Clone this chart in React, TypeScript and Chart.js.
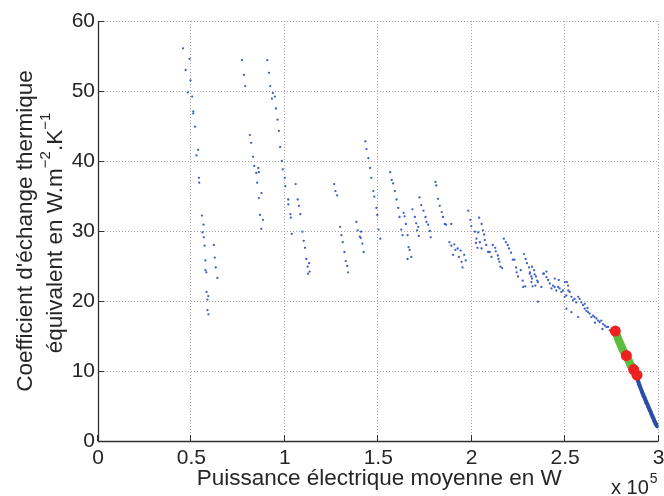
import React, { useEffect, useRef } from "react";
import { Chart, registerables } from "chart.js";

Chart.register(...registerables);

// Puissance électrique moyenne (×10^5 W) , coefficient d'échange (W.m-2.K-1)
const bluePoints: [number, number][] = [
  [0.455, 56.1], [0.49, 54.6], [0.469, 53.0], [0.495, 51.5], [0.481, 49.8], [0.504, 49.2],
  [0.51, 47.1], [0.51, 46.8], [0.52, 44.9], [0.536, 41.6], [0.527, 40.8], [0.54, 37.6],
  [0.542, 36.9], [0.556, 32.2], [0.565, 30.9], [0.559, 29.8], [0.566, 29.1], [0.57, 27.9],
  [0.62, 28.0], [0.625, 26.2], [0.575, 25.8], [0.63, 24.8], [0.575, 24.4], [0.58, 24.1],
  [0.639, 23.3], [0.581, 21.3], [0.59, 20.7], [0.586, 20.2], [0.586, 18.7], [0.591, 18.1],
  [0.771, 54.4], [0.781, 52.3], [0.788, 50.7], [0.813, 43.7], [0.82, 42.6], [0.83, 40.6],
  [0.836, 39.3], [0.858, 39.0], [0.847, 38.3], [0.861, 38.4], [0.852, 36.9], [0.875, 35.4],
  [0.861, 34.7], [0.867, 32.3], [0.883, 31.6], [0.874, 30.3],
  [0.906, 54.4], [0.915, 52.6], [0.922, 50.7], [0.936, 49.7], [0.947, 49.2], [0.931, 48.9],
  [0.952, 47.5], [0.961, 45.9], [0.968, 44.3], [0.975, 42.0], [0.984, 40.0], [0.989, 38.8],
  [1.0, 37.6], [1.003, 36.4], [1.018, 34.5], [1.019, 33.8], [1.03, 32.4], [1.032, 31.9],
  [1.037, 29.6], [1.058, 36.7], [1.069, 34.5], [1.076, 33.6], [1.083, 32.4], [1.094, 29.9],
  [1.101, 28.6], [1.108, 27.6], [1.115, 26.0], [1.13, 25.4], [1.122, 24.9], [1.133, 24.2],
  [1.124, 23.9],
  [1.264, 36.7], [1.271, 35.7], [1.28, 35.1], [1.296, 30.6], [1.303, 29.4], [1.31, 28.4],
  [1.319, 27.0], [1.326, 25.7], [1.334, 25.0], [1.339, 24.1],
  [1.383, 31.3], [1.39, 30.1], [1.401, 29.2], [1.406, 29.0], [1.408, 29.9], [1.415, 28.2],
  [1.422, 27.0], [1.431, 42.8], [1.437, 41.7], [1.447, 40.4], [1.456, 39.0], [1.463, 37.6],
  [1.474, 35.7], [1.479, 34.9], [1.49, 33.3], [1.495, 32.3], [1.502, 30.2], [1.511, 28.9],
  [1.564, 38.4], [1.572, 37.3], [1.58, 36.8], [1.589, 35.7], [1.598, 34.5], [1.607, 33.3],
  [1.614, 32.0], [1.623, 30.2], [1.63, 29.4], [1.636, 32.6], [1.641, 32.1], [1.648, 31.0],
  [1.657, 29.4], [1.662, 27.7], [1.668, 27.3], [1.657, 26.0], [1.677, 26.3], [1.683, 33.1],
  [1.696, 32.0], [1.703, 31.1], [1.708, 30.1], [1.714, 30.6], [1.717, 29.3], [1.721, 34.8],
  [1.73, 33.7], [1.742, 32.9], [1.753, 32.0], [1.758, 31.3], [1.767, 30.9], [1.776, 30.0],
  [1.781, 29.1], [1.806, 37.0], [1.811, 36.5], [1.82, 34.6], [1.829, 33.6], [1.84, 32.7],
  [1.847, 32.0], [1.856, 31.0], [1.863, 30.9], [1.891, 31.0], [1.881, 28.4], [1.891, 27.9],
  [1.907, 28.1], [1.913, 27.3], [1.925, 27.5], [1.9, 26.6], [1.941, 27.2], [1.932, 26.3],
  [1.946, 25.6], [1.968, 25.8], [1.951, 24.8], [1.96, 26.6],
  [1.982, 32.9], [1.993, 31.6], [1.998, 30.7], [2.017, 29.9], [2.026, 28.9], [2.035, 29.8],
  [2.023, 28.3], [2.04, 31.9], [2.053, 31.0], [2.06, 30.1], [2.044, 28.4], [2.067, 29.5],
  [2.031, 27.6], [2.053, 27.5], [2.07, 28.7], [2.078, 28.0], [2.088, 27.0], [2.097, 27.0],
  [2.106, 26.3], [2.113, 28.0], [2.126, 27.6], [2.129, 27.1], [2.14, 26.5], [2.143, 26.0],
  [2.149, 25.6], [2.154, 24.9], [2.163, 24.7], [2.172, 28.9], [2.183, 28.4], [2.193, 28.0],
  [2.2, 27.5], [2.211, 26.9], [2.22, 25.9], [2.229, 25.9], [2.238, 24.8], [2.241, 24.1],
  [2.248, 23.5], [2.263, 24.4], [2.273, 22.9], [2.28, 26.7], [2.289, 26.0], [2.296, 25.4],
  [2.307, 24.8], [2.312, 24.1], [2.319, 23.5], [2.337, 23.8], [2.344, 23.5], [2.351, 22.9],
  [2.276, 22.0], [2.287, 22.1], [2.326, 22.1],
  [2.323, 24.9], [2.334, 24.4], [2.311, 23.9], [2.323, 23.2], [2.32, 22.7], [2.341, 22.2],
  [2.355, 22.7], [2.373, 22.0], [2.387, 23.9], [2.4, 24.2], [2.4, 23.4], [2.409, 23.0],
  [2.418, 22.5], [2.427, 21.8], [2.435, 22.2], [2.444, 22.0], [2.453, 21.5], [2.466, 23.0],
  [2.471, 21.8], [2.48, 21.3], [2.489, 21.5], [2.498, 20.6], [2.507, 20.8], [2.51, 22.7],
  [2.516, 22.2], [2.525, 21.3], [2.534, 20.6], [2.542, 20.1], [2.551, 20.3], [2.56, 19.8],
  [2.57, 20.6], [2.578, 20.3], [2.587, 19.8], [2.596, 19.4], [2.605, 18.9], [2.614, 18.6],
  [2.623, 18.4], [2.632, 18.2], [2.641, 17.7], [2.65, 17.9], [2.658, 17.7], [2.668, 17.5],
  [2.677, 17.2], [2.685, 17.0], [2.694, 17.2], [2.703, 16.7], [2.712, 16.5], [2.721, 16.3],
  [2.73, 16.3], [2.739, 15.8], [2.57, 17.7], [2.507, 18.9], [2.534, 18.4], [2.355, 19.9],
  [2.383, 23.9], [2.445, 23.2], [2.463, 22.0], [2.499, 22.7], [2.517, 21.5], [2.605, 19.6],
  [2.62, 19.0], [2.66, 16.9], [2.7, 16.0], [2.75, 15.5], [2.76, 15.2],
];

const tailPoints: [number, number][] = [
  [2.888, 8.9], [2.89, 8.6], [2.893, 8.4], [2.896, 8.1], [2.899, 7.9], [2.902, 7.7],
  [2.905, 7.5], [2.909, 7.2], [2.912, 7.0], [2.915, 6.8], [2.918, 6.6], [2.921, 6.4],
  [2.925, 6.2], [2.928, 6.0], [2.931, 5.8], [2.934, 5.6], [2.937, 5.4], [2.941, 5.2],
  [2.944, 5.0], [2.947, 4.8], [2.95, 4.6], [2.954, 4.4], [2.957, 4.2], [2.96, 4.0],
  [2.963, 3.8], [2.966, 3.6], [2.97, 3.4], [2.973, 3.2], [2.976, 3.0], [2.979, 2.8],
  [2.983, 2.6], [2.986, 2.4], [2.989, 2.3], [2.993, 2.1],
];

const greenPoints: [number, number][] = [
  [2.775, 15.3], [2.78, 14.9], [2.785, 14.5], [2.79, 14.2], [2.795, 13.9], [2.8, 13.6],
  [2.805, 13.3], [2.81, 13.0], [2.815, 12.7], [2.822, 12.4], [2.835, 11.8], [2.84, 11.5],
  [2.845, 11.2], [2.85, 10.9], [2.855, 10.7], [2.86, 10.5], [2.872, 9.9], [2.878, 9.6],
];

const redPoints: [number, number][] = [
  [2.769, 15.7], [2.828, 12.2], [2.867, 10.2], [2.885, 9.4],
];

const xTicks = [0, 0.5, 1, 1.5, 2, 2.5, 3];
const yTicks = [0, 10, 20, 30, 40, 50, 60];
const xLabel = "Puissance électrique moyenne en W";
const xExponentBase = "x 10";
const xExponent = "5";
const yLabelLine1 = "Coefficient d'échange thermique";
const yLabelLine2: { t: string; sup: boolean }[] = [
  { t: "équivalent en W.m", sup: false },
  { t: "−2", sup: true },
  { t: ".K", sup: false },
  { t: "−1", sup: true },
];

const FONT = '"Liberation Sans", Arial, Helvetica, sans-serif';
const TEXT = "#262626";

const toXY = (p: [number, number][]) => p.map(([x, y]) => ({ x, y }));

const matlabAxes = {
  id: "matlabAxes",
  beforeDatasetsDraw(chart: any) {
    const { ctx, chartArea: a, scales } = chart;
    const xs = scales.x, ys = scales.y;
    ctx.save();
    ctx.strokeStyle = "#a8a8a8";
    ctx.lineWidth = 1;
    ctx.setLineDash([1, 2]);
    xTicks.forEach((v) => {
      if (v === 0) return;
      const px = Math.round(xs.getPixelForValue(v)) - 0.5;
      ctx.beginPath(); ctx.moveTo(px, a.top); ctx.lineTo(px, a.bottom); ctx.stroke();
    });
    yTicks.forEach((v) => {
      if (v === 0) return;
      const py = Math.round(ys.getPixelForValue(v)) + 0.5;
      ctx.beginPath(); ctx.moveTo(a.left, py); ctx.lineTo(a.right, py); ctx.stroke();
    });
    ctx.restore();
  },
  afterDatasetsDraw(chart: any) {
    const { ctx, chartArea: a, scales } = chart;
    const xs = scales.x, ys = scales.y;
    ctx.save();
    ctx.strokeStyle = "#303030";
    ctx.lineWidth = 1.3;
    ctx.setLineDash([]);
    ctx.beginPath();
    ctx.moveTo(a.left + 0.5, a.top);
    ctx.lineTo(a.left + 0.5, a.bottom + 0.5);
    ctx.lineTo(a.right, a.bottom + 0.5);
    ctx.stroke();
    ctx.lineWidth = 1;
    xTicks.forEach((v) => {
      const px = Math.round(xs.getPixelForValue(v)) - 0.5;
      ctx.beginPath(); ctx.moveTo(px, a.bottom); ctx.lineTo(px, a.bottom - 6); ctx.stroke();
    });
    yTicks.forEach((v) => {
      const py = Math.round(ys.getPixelForValue(v)) + 0.5;
      ctx.beginPath(); ctx.moveTo(a.left, py); ctx.lineTo(a.left + 6, py); ctx.stroke();
    });

    ctx.fillStyle = TEXT;
    // x label
    ctx.font = `22.5px ${FONT}`;
    ctx.textAlign = "center";
    ctx.textBaseline = "alphabetic";
    ctx.fillText(xLabel, (a.left + a.right) / 2 + 1, 485);
    // exponent
    ctx.font = `20px ${FONT}`;
    ctx.textAlign = "left";
    const bx = 611;
    ctx.fillText(xExponentBase, bx, 494);
    const bw = ctx.measureText(xExponentBase).width;
    ctx.font = `14px ${FONT}`;
    ctx.fillText(xExponent, bx + bw + 1, 483);

    // y label (rotated)
    const cy = (a.top + a.bottom) / 2;
    ctx.translate(0, cy);
    ctx.rotate(-Math.PI / 2);
    ctx.font = `22.5px ${FONT}`;
    ctx.textAlign = "center";
    ctx.fillText(yLabelLine1, 0, 32);
    // line 2 with superscripts
    const big = `22.5px ${FONT}`, small = `15px ${FONT}`;
    let total = 0;
    const widths = yLabelLine2.map((s) => {
      ctx.font = s.sup ? small : big;
      const w = ctx.measureText(s.t).width;
      total += w;
      return w;
    });
    ctx.textAlign = "left";
    let x0 = -total / 2 - 2;
    yLabelLine2.forEach((s, i) => {
      ctx.font = s.sup ? small : big;
      ctx.fillText(s.t, x0, s.sup ? 50 : 62);
      x0 += widths[i];
    });
    ctx.restore();
  },
};

export default function App() {
  const ref = useRef<HTMLCanvasElement | null>(null);
  useEffect(() => {
    if (!ref.current) return;
    const chart = new Chart(ref.current, {
      type: "scatter",
      data: {
        datasets: [
          { data: toXY(redPoints), backgroundColor: "#ee2020", pointRadius: 5.5, borderWidth: 0, order: 0 },
          { data: toXY(greenPoints), backgroundColor: "#5dbb3e", pointRadius: 4, borderWidth: 0, order: 1 },
          { data: toXY(tailPoints), backgroundColor: "#2b4ea6", pointRadius: 2.1, borderWidth: 0, order: 2 },
          { data: toXY(bluePoints), backgroundColor: "#3d5fc6", pointRadius: 1.15, borderWidth: 0, order: 3 },
        ],
      },
      options: {
        responsive: false,
        animation: false,
        layout: { padding: { left: 0, top: 21, right: 3, bottom: 0 } },
        plugins: { legend: { display: false }, tooltip: { enabled: false }, title: { display: false } },
        scales: {
          x: {
            type: "linear",
            min: 0,
            max: 3,
            grid: { display: false, drawTicks: false },
            border: { display: false },
            ticks: {
              stepSize: 0.5,
              autoSkip: false,
              maxRotation: 0,
              padding: 5,
              color: TEXT,
              font: { family: FONT, size: 21 },
              callback: (v: any) => String(Math.round(Number(v) * 10) / 10),
            },
            afterFit: (s: any) => { s.height = 55; s.paddingLeft = 0; s.paddingRight = 0; },
          },
          y: {
            type: "linear",
            min: 0,
            max: 60,
            grid: { display: false, drawTicks: false },
            border: { display: false },
            ticks: {
              stepSize: 10,
              autoSkip: false,
              padding: 3,
              color: TEXT,
              font: { family: FONT, size: 21 },
              callback: (v: any) => String(v),
            },
            afterFit: (s: any) => { s.width = 98; s.paddingTop = 0; s.paddingBottom = 0; },
          },
        },
      },
      plugins: [matlabAxes],
    });
    return () => chart.destroy();
  }, []);
  return (
    <div style={{ position: "fixed", left: 0, top: 0, width: 664, height: 496, background: "#fff" }}>
      <canvas ref={ref} width={664} height={496} style={{ display: "block" }} />
    </div>
  );
}
